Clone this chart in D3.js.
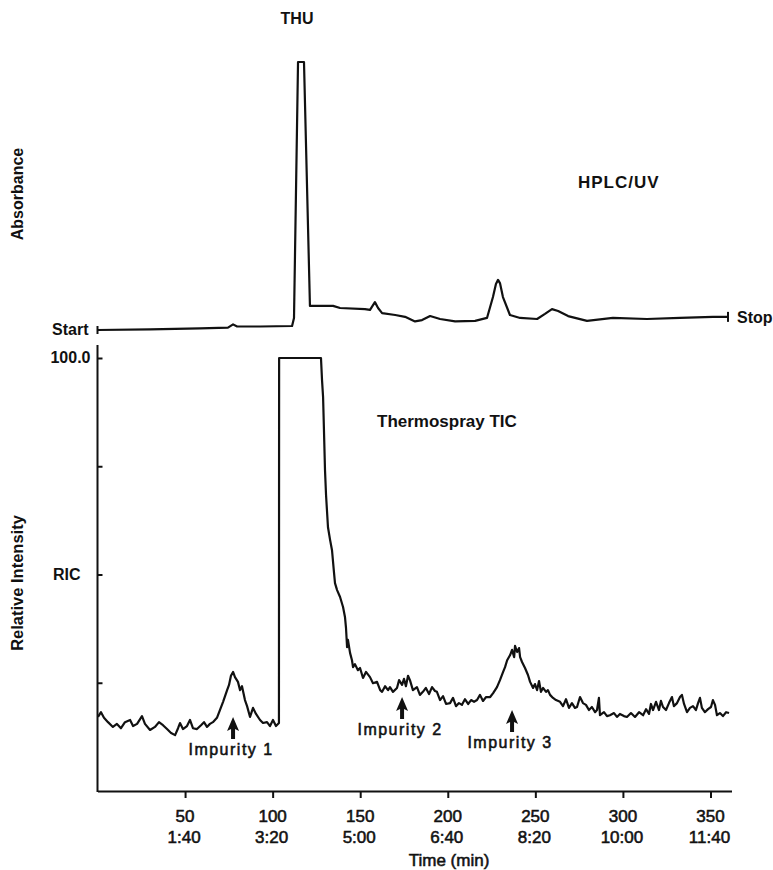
<!DOCTYPE html>
<html>
<head>
<meta charset="utf-8">
<script src="https://cdn.jsdelivr.net/npm/d3@7"></script>
<style>
  body { margin: 0; background: #fff; }
  svg { display: block; font-family: "Liberation Sans", Arial, sans-serif; }
  .trace { fill: none; stroke: #111; stroke-width: 2.2; stroke-linejoin: round; }
  .lbl { font-weight: bold; fill: #111; }
  .med { fill: #111; stroke: #111; stroke-width: 0.55; }
  .axis path, .axis line { stroke: #111; stroke-width: 2; }
</style>
</head>
<body>
<svg id="chart" width="773" height="870"></svg>
<script>
// HPLC/UV trace (top), time in scans, absorbance in % of THU peak
var uvTime = [0, 30, 58.5, 74.5, 77.4, 79.7, 92.8, 111.1, 112.2, 114.5, 117.9, 121.3, 134.5, 138.5,
  152.7, 155.6, 158.4, 160.2, 162.5, 170, 175.6, 181.3, 185.3, 189.9, 195.6, 204.2, 215.6, 222.4,
  225.8, 227.5, 228.7, 229.8, 231.5, 235.5, 241.3, 251, 255.5, 259.5, 263, 268.7, 279.5, 294.3,
  313.7, 332.6, 351.4, 360];
var uvAbs = [0, 0.2, 0.6, 0.9, 2.1, 1.3, 1.3, 1.5, 4.5, 100, 100, 9.0, 9.0, 8.2,
  7.8, 7.5, 10.4, 8.2, 6.3, 5.6, 4.9, 3.2, 3.7, 5.2, 4.1, 3.2, 3.4, 4.5,
  12.3, 17.2, 18.7, 17.5, 12.3, 5.6, 4.5, 4.1, 6.0, 7.8, 7.1, 5.2, 3.4, 4.5,
  4.1, 4.5, 4.9, 4.9];

// Thermospray TIC trace (bottom), relative intensity %
var ticTime = [0.3, 2, 3.7, 6, 8.8, 11.1, 13.4, 15.7, 18.6, 20.3, 22.6, 25.4, 27.1, 30, 32.8, 35.1,
  37.4, 39.7, 42, 44.3, 46, 47.1, 48.8, 51.1, 52.8, 54.5, 56.8, 59.1, 60.8, 62.5, 64.2, 65.9, 68.2,
  69.9, 71.7, 74, 75.1, 76.2, 77.4, 78.5, 80.2, 81.4, 82.5, 84.2, 85.4, 87.1, 88.8, 90.5, 92.8,
  94.5, 96.8, 98.5, 100.2, 101.9, 103.6, 103.7, 127.6, 128.2, 128.8, 129.3, 129.9, 130.5, 131.6,
  132.8, 133.9, 135, 135.6, 136.8, 138.5, 140.2, 141.3, 141.9, 142.5, 143, 144.2, 145.3, 145.9,
  147, 148.7, 149.9, 151.6, 153.3, 155.6, 157.3, 159.6, 161.4, 162.5, 164.2, 165.9, 167, 168.7,
  171, 172.2, 173.9, 175, 176.1, 177.3, 178.4, 180.1, 182.4, 184.1, 185.8, 187.5, 189.3, 191,
  192.7, 193.8, 195.6, 197.3, 199, 201.3, 203, 204.7, 206.4, 208.1, 209.8, 211.6, 213.3, 215,
  216.7, 218.4, 220.1, 221.9, 224.2, 225.9, 228.1, 229.8, 231.6, 232.7, 233.9, 235.6, 236.7,
  237.9, 238.4, 239.6, 240.7, 241.3, 242.4, 244.1, 245.8, 247, 248.7, 249.8, 251, 252.1, 253.2,
  254.4, 256.1, 257.2, 258.4, 260.1, 261.8, 264.1, 265.8, 267.5, 269.2, 270.9, 272.6, 273.8,
  275.5, 277.2, 278.9, 280.6, 282.3, 284.1, 285.2, 286.3, 286.9, 289.2, 290.9, 292.6, 294.9,
  296.6, 298.3, 300.6, 302.3, 304.6, 306.9, 309.2, 311.5, 313.2, 314.9, 316, 317.2, 318.9,
  320.6, 321.7, 322.9, 324.6, 326.3, 328, 329.1, 330.9, 332.6, 333.7, 334.9, 336.6, 338.3, 340,
  341.7, 342.9, 344, 345.1, 346.8, 348.6, 350.3, 351.4, 352.6, 353.7, 355.4, 357.1, 358.9, 360.6];
var ticInt = [17.1, 18.2, 16.9, 15.9, 14.8, 15.5, 14.5, 15.9, 16.4, 15.0, 15.5, 17.3, 15.5, 14.1,
  14.8, 15.9, 15.2, 14.3, 13.4, 12.9, 14.5, 15.7, 14.3, 15.0, 16.4, 14.5, 14.3, 15.2, 15.9, 14.8,
  15.5, 15.9, 16.9, 18.7, 20.6, 23.3, 24.5, 26.6, 27.5, 26.3, 25.2, 23.3, 24.2, 21.0, 19.6, 17.1,
  19.2, 17.8, 16.4, 15.7, 15.9, 15.0, 16.4, 15.0, 15.7, 100, 100, 94.9, 91.0, 83.4, 74.1, 68.3,
  60.9, 58.0, 55.6, 50.6, 48.0, 46.4, 44.8, 42.5, 40.2, 37.6, 33.2, 34.9, 31.9, 30.2, 28.6, 29.3,
  27.9, 28.4, 26.1, 27.5, 26.3, 24.9, 25.2, 23.3, 22.9, 24.2, 23.3, 24.0, 22.9, 23.8, 25.6, 24.5,
  25.9, 24.2, 26.6, 25.6, 23.3, 24.0, 22.2, 22.9, 23.8, 22.4, 24.0, 23.1, 22.9, 21.0, 21.9, 20.1,
  20.3, 21.5, 19.6, 20.3, 19.9, 21.2, 20.1, 21.0, 20.6, 21.0, 22.2, 20.8, 21.7, 21.7, 22.6, 24.0,
  25.6, 27.5, 28.6, 30.2, 31.4, 32.6, 30.9, 33.5, 32.1, 33.0, 30.9, 29.8, 28.4, 26.8, 25.2, 23.8,
  24.7, 23.3, 25.4, 22.9, 23.8, 22.9, 23.3, 22.2, 21.5, 21.0, 20.6, 19.6, 21.2, 19.2, 20.3, 19.2,
  19.4, 21.7, 20.3, 19.9, 18.7, 19.4, 18.2, 18.7, 21.5, 17.5, 18.2, 17.3, 17.5, 18.0, 17.1, 17.8,
  17.3, 17.1, 18.0, 17.1, 18.2, 17.5, 18.9, 17.8, 20.1, 18.7, 20.6, 18.7, 20.8, 19.4, 18.7, 20.3,
  21.7, 19.6, 20.3, 21.7, 22.2, 20.1, 18.2, 19.2, 19.6, 18.7, 20.3, 21.5, 19.2, 18.2, 18.9, 19.4,
  21.0, 19.9, 17.5, 18.0, 17.3, 18.2, 18.0];

// x axis ticks: scan number and mm:ss
var xTicks = [50, 100, 150, 200, 250, 300, 350];
var xTickTimes = ["1:40", "3:20", "5:00", "6:40", "8:20", "10:00", "11:40"];

// y axis ticks of the TIC panel
var yTicks = [25, 50, 75, 100];
var yTickNames = ["100.0", "RIC"];
var yTickNameValues = [100, 50];

// impurity markers
var impurityNames = ["Impurity 1", "Impurity 2", "Impurity 3"];
var impurityTime = [77.4, 173.9, 236.7];
var impurityTip = [17.1, 21.7, 18.7];

var svg = d3.select("#chart");

var x = d3.scaleLinear().domain([0, 362]).range([97.5, 731.5]);
var yTop = d3.scaleLinear().domain([0, 100]).range([330, 62]);
var yBot = d3.scaleLinear().domain([0, 100]).range([791, 358]);

// HPLC/UV trace
var uvLine = d3.line().x(function(d) { return x(d[0]); }).y(function(d) { return yTop(d[1]); });
svg.append("path")
  .datum(d3.zip(uvTime, uvAbs))
  .attr("class", "trace")
  .attr("d", uvLine);

// Start / Stop marks
svg.append("line")
  .attr("x1", x(0)).attr("x2", x(0))
  .attr("y1", yTop(uvAbs[0]) - 4).attr("y2", yTop(uvAbs[0]) + 4)
  .attr("stroke", "#111").attr("stroke-width", 2);
svg.append("line")
  .attr("x1", x(360)).attr("x2", x(360))
  .attr("y1", yTop(uvAbs[uvAbs.length - 1]) - 5).attr("y2", yTop(uvAbs[uvAbs.length - 1]) + 5)
  .attr("stroke", "#111").attr("stroke-width", 2);
svg.append("text").attr("class", "lbl")
  .attr("x", x(0) - 9).attr("y", 335)
  .attr("text-anchor", "end").attr("font-size", 16)
  .text("Start");
svg.append("text").attr("class", "lbl")
  .attr("x", x(360) + 9).attr("y", 323)
  .attr("font-size", 16)
  .text("Stop");

// top labels
svg.append("text").attr("class", "lbl")
  .attr("x", 297).attr("y", 24)
  .attr("text-anchor", "middle").attr("font-size", 16)
  .text("THU");
svg.append("text").attr("class", "lbl")
  .attr("x", 578).attr("y", 188)
  .attr("font-size", 17).attr("letter-spacing", 1)
  .text("HPLC/UV");
svg.append("text").attr("class", "lbl")
  .attr("transform", "translate(23,194) rotate(-90)")
  .attr("text-anchor", "middle").attr("font-size", 16)
  .text("Absorbance");

// TIC trace
var ticLine = d3.line().x(function(d) { return x(d[0]); }).y(function(d) { return yBot(d[1]); });
svg.append("path")
  .datum(d3.zip(ticTime, ticInt))
  .attr("class", "trace")
  .attr("d", ticLine);

// Y axis (TIC)
var yAxis = svg.append("g")
  .attr("class", "axis")
  .attr("transform", "translate(" + x(0) + ",0)")
  .call(d3.axisRight(yBot).tickValues(yTicks).tickSize(5).tickFormat(""));
yAxis.select(".domain").remove();
svg.append("line")
  .attr("x1", x(0)).attr("x2", x(0))
  .attr("y1", yBot(103)).attr("y2", yBot(0) + 1)
  .attr("stroke", "#111").attr("stroke-width", 2);

svg.selectAll(".ytick-name")
  .data(d3.zip(yTickNames, yTickNameValues))
  .enter().append("text")
  .attr("class", "lbl ytick-name")
  .attr("x", function(d, i) { return i === 0 ? x(0) - 7 : x(0) - 17; })
  .attr("y", function(d) { return yBot(d[1]) + 5; })
  .attr("text-anchor", "end").attr("font-size", 16)
  .text(function(d) { return d[0]; });

svg.append("text").attr("class", "lbl")
  .attr("transform", "translate(23,583) rotate(-90)")
  .attr("text-anchor", "middle").attr("font-size", 16.5)
  .text("Relative Intensity");

svg.append("text").attr("class", "lbl")
  .attr("x", 377).attr("y", 427)
  .attr("font-size", 17)
  .text("Thermospray TIC");

// X axis
var xAxis = svg.append("g")
  .attr("class", "axis")
  .attr("transform", "translate(0," + yBot(0) + ")")
  .call(d3.axisBottom(x).tickValues(xTicks).tickSize(7).tickSizeOuter(0).tickFormat(""));

var tickLbl = svg.selectAll(".xtick-lbl")
  .data(d3.zip(xTicks, xTickTimes))
  .enter().append("text")
  .attr("class", "xtick-lbl med")
  .attr("text-anchor", "middle")
  .attr("font-size", 17);
tickLbl.append("tspan")
  .attr("x", function(d) { return x(d[0]); }).attr("y", 822)
  .text(function(d) { return d[0]; });
tickLbl.append("tspan")
  .attr("x", function(d) { return x(d[0]) - 1; }).attr("y", 843)
  .text(function(d) { return d[1]; });

svg.append("text").attr("class", "med")
  .attr("x", 449).attr("y", 866)
  .attr("text-anchor", "middle").attr("font-size", 17)
  .text("Time (min)");

// Impurity arrows
var imp = svg.selectAll(".impurity")
  .data(d3.zip(impurityNames, impurityTime, impurityTip))
  .enter().append("g")
  .attr("class", "impurity")
  .attr("transform", function(d) { return "translate(" + x(d[1]) + "," + yBot(d[2]) + ")"; });
imp.append("path")
  .attr("d", "M0,0 L-6,14 L-2,12 L-2,22 L2,22 L2,12 L6,14 Z")
  .attr("fill", "#111");
imp.append("text")
  .attr("class", "med")
  .attr("x", -2).attr("y", 38)
  .attr("text-anchor", "middle")
  .attr("font-size", 16).attr("letter-spacing", 1.5)
  .text(function(d) { return d[0]; });
</script>
</body>
</html>
